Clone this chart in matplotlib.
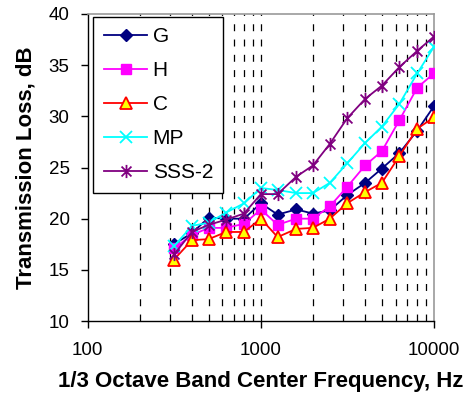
import matplotlib
matplotlib.use("Agg")
import matplotlib.pyplot as plt
from matplotlib.path import Path
from matplotlib.ticker import FixedLocator, NullFormatter

plt.rcParams['font.family'] = ['Liberation Sans', 'DejaVu Sans']
plt.rcParams['lines.scale_dashes'] = False

freq = [315, 400, 500, 630, 800, 1000, 1250, 1600, 2000, 2500, 3150, 4000, 5000, 6300, 8000, 10000]
G = [17.5, 18.6, 20.1, 20.0, 20.0, 21.5, 20.4, 20.9, 20.5, 20.8, 22.3, 23.5, 24.9, 26.4, 28.6, 31.0]
H = [17.1, 18.4, 19.1, 19.1, 19.5, 20.9, 19.4, 20.0, 20.0, 21.2, 23.1, 25.2, 26.6, 29.6, 32.8, 34.2]
C = [16.0, 17.9, 18.0, 18.7, 18.7, 20.0, 18.2, 19.0, 19.1, 20.0, 21.5, 22.6, 23.5, 26.1, 28.8, 29.9]
MP = [17.3, 19.3, 19.6, 20.6, 21.5, 23.0, 22.8, 22.5, 22.5, 23.5, 25.4, 27.4, 29.0, 31.2, 34.2, 36.8]
SSS2 = [16.5, 18.7, 19.4, 19.9, 20.5, 22.4, 22.4, 24.1, 25.2, 27.3, 29.8, 31.7, 33.0, 34.8, 36.4, 37.8]
grid_freqs = [200, 300, 400, 500, 600, 700, 800, 900, 1000,
              2000, 3000, 4000, 5000, 6000, 7000, 8000, 9000]
xticks = [100, 1000, 10000]
yticks = [10, 15, 20, 25, 30, 35, 40]

asterisk = Path([(0, -1), (0, 1), (-0.75, -0.75), (0.75, 0.75), (-0.75, 0.75), (0.75, -0.75)],
                [Path.MOVETO, Path.LINETO, Path.MOVETO, Path.LINETO, Path.MOVETO, Path.LINETO])

fig = plt.figure(figsize=(4.64, 4.04), dpi=100)
ax = fig.add_axes([87.7/464, 1-321/404, (434-87.7)/464, (321-14)/404])

for g in grid_freqs:
    ax.axvline(g, color='black', lw=0.9, linestyle=(0, (5, 6)), zorder=1)

ax.plot(freq, G, color='#000080', marker='D', ms=6.5, mfc='#000080', mec='#000080', lw=1.3, label='G', zorder=3)
ax.plot(freq, H, color='#FF00FF', marker='s', ms=7.5, mfc='#FF00FF', mec='#FF00FF', lw=1.3, label='H', zorder=3)
ax.plot(freq, C, color='#FF0000', marker='^', ms=8.5, mfc='#FFFF00', mec='#FF0000', mew=1.3, lw=1.3, label='C', zorder=3)
ax.plot(freq, MP, color='#00FFFF', marker='x', ms=8.5, mec='#00FFFF', mew=1.3, lw=1.3, label='MP', zorder=3)
ax.plot(freq, SSS2, color='#800080', marker=asterisk, ms=9.5, mec='#800080', mew=1.3, lw=1.3, label='SSS-2', zorder=3)

ax.set_xscale('log')
ax.set_xlim(100, 10000)
ax.set_ylim(10, 40)
ax.xaxis.set_major_locator(FixedLocator(xticks))
ax.xaxis.set_minor_locator(FixedLocator([]))
ax.xaxis.set_minor_formatter(NullFormatter())
ax.set_xticklabels([str(t) for t in xticks])
ax.set_yticks(yticks)
ax.tick_params(axis='both', direction='out', length=5, width=1, labelsize=13.5, colors='black')
ax.tick_params(axis='x', pad=10)
ax.tick_params(axis='y', pad=8)

for s in ['left', 'bottom']:
    ax.spines[s].set_color('black')
    ax.spines[s].set_linewidth(1)
for s in ['top', 'right']:
    ax.spines[s].set_color('#999999')
    ax.spines[s].set_linewidth(1.2)

ax.set_xlabel('1/3 Octave Band Center Frequency, Hz', fontsize=16, fontweight='bold', labelpad=9)
ax.set_ylabel('Transmission Loss, dB', fontsize=16, fontweight='bold', labelpad=9)

leg = ax.legend(loc='upper left', bbox_to_anchor=(93.3/464, 1-16.7/404), bbox_transform=fig.transFigure,
                fontsize=15, frameon=True, fancybox=False, edgecolor='black', framealpha=1,
                handlelength=2.1, handletextpad=0.25, borderpad=0.5, labelspacing=0.72, borderaxespad=0)
leg.get_frame().set_linewidth(1)
leg.set_zorder(5)

fig.savefig('out.png', dpi=100)
